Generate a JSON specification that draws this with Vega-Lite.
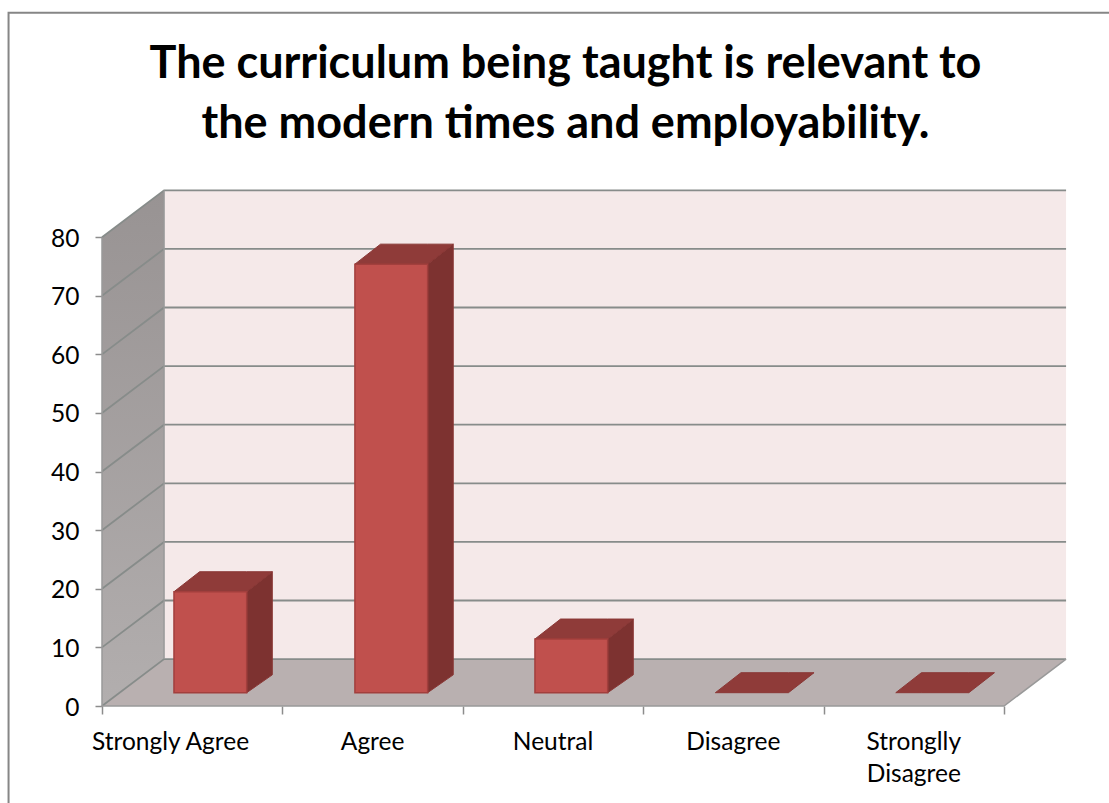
{
"$schema":"https://vega.github.io/schema/vega-lite/v6.json",
"width":1109,"height":803,"padding":0,"autosize":{"type":"none"},"background":"white",
"config":{"view":{"stroke":null}},
"title":{"text":["The curriculum being taught is relevant to","the modern times and employability."],"font":"Lato","fontSize":45,"fontWeight":"bold","color":"#000000","lineHeight":60,"anchor":"middle","frame":"group","orient":"top","baseline":"alphabetic","offset":-183,"dx":11},
"datasets":{
"walls":[{"wall":"left","x":0,"y":0,"y2":80},{"wall":"left","x":0.344,"y":8,"y2":88}],
"backwall":[{"wall":"back","x":0.344,"y":8,"y2":88},{"wall":"back","x":5.344,"y":8,"y2":88}],
"floor":[{"x":0,"y":0,"y2":0},{"x":0.344,"y":0,"y2":8},{"x":5,"y":0,"y2":8},{"x":5.344,"y":8,"y2":8}],
"grid":[
{"g":0,"i":0,"x":0,"y":0},{"g":0,"i":1,"x":0.344,"y":8},{"g":0,"i":2,"x":5.344,"y":8},
{"g":10,"i":0,"x":0,"y":10},{"g":10,"i":1,"x":0.344,"y":18},{"g":10,"i":2,"x":5.344,"y":18},
{"g":20,"i":0,"x":0,"y":20},{"g":20,"i":1,"x":0.344,"y":28},{"g":20,"i":2,"x":5.344,"y":28},
{"g":30,"i":0,"x":0,"y":30},{"g":30,"i":1,"x":0.344,"y":38},{"g":30,"i":2,"x":5.344,"y":38},
{"g":40,"i":0,"x":0,"y":40},{"g":40,"i":1,"x":0.344,"y":48},{"g":40,"i":2,"x":5.344,"y":48},
{"g":50,"i":0,"x":0,"y":50},{"g":50,"i":1,"x":0.344,"y":58},{"g":50,"i":2,"x":5.344,"y":58},
{"g":60,"i":0,"x":0,"y":60},{"g":60,"i":1,"x":0.344,"y":68},{"g":60,"i":2,"x":5.344,"y":68},
{"g":70,"i":0,"x":0,"y":70},{"g":70,"i":1,"x":0.344,"y":78},{"g":70,"i":2,"x":5.344,"y":78},
{"g":80,"i":0,"x":0,"y":80},{"g":80,"i":1,"x":0.344,"y":88},{"g":80,"i":2,"x":5.344,"y":88}],
"edges":[
{"g":"front","i":0,"x":0,"y":80},{"g":"front","i":1,"x":0,"y":0},{"g":"front","i":2,"x":5,"y":0},{"g":"front","i":3,"x":5.344,"y":8},
{"g":"back","i":0,"x":0.344,"y":8},{"g":"back","i":1,"x":0.344,"y":88}],
"frame":[{"i":0,"x":-0.518,"y":-17},{"i":1,"x":-0.518,"y":118.3},{"i":2,"x":5.582,"y":118.3}],
"front":[
{"category":"Strongly Agree","x":0.399,"x2":0.802,"y":2.27,"y2":19.5},
{"category":"Agree","x":1.402,"x2":1.805,"y":2.27,"y2":75.4},
{"category":"Neutral","x":2.4,"x2":2.803,"y":2.27,"y2":11.43}],
"side":[
{"category":"Strongly Agree","x":0.802,"y":2.27,"y2":19.5},{"category":"Strongly Agree","x":0.944,"y":5.32,"y2":22.91},
{"category":"Agree","x":1.805,"y":2.27,"y2":75.4},{"category":"Agree","x":1.947,"y":5.32,"y2":78.81},
{"category":"Neutral","x":2.803,"y":2.27,"y2":11.43},{"category":"Neutral","x":2.945,"y":5.32,"y2":14.84}],
"top":[
{"category":"Strongly Agree","x":0.399,"y":19.5,"y2":19.5},{"category":"Strongly Agree","x":0.541,"y":19.5,"y2":22.91},{"category":"Strongly Agree","x":0.802,"y":19.5,"y2":22.91},{"category":"Strongly Agree","x":0.944,"y":22.91,"y2":22.91},
{"category":"Agree","x":1.402,"y":75.4,"y2":75.4},{"category":"Agree","x":1.544,"y":75.4,"y2":78.81},{"category":"Agree","x":1.805,"y":75.4,"y2":78.81},{"category":"Agree","x":1.947,"y":78.81,"y2":78.81},
{"category":"Neutral","x":2.4,"y":11.43,"y2":11.43},{"category":"Neutral","x":2.542,"y":11.43,"y2":14.84},{"category":"Neutral","x":2.803,"y":11.43,"y2":14.84},{"category":"Neutral","x":2.945,"y":14.84,"y2":14.84},
{"category":"Disagree","x":3.4,"y":2.27,"y2":2.27},{"category":"Disagree","x":3.542,"y":2.27,"y2":5.68},{"category":"Disagree","x":3.805,"y":2.27,"y2":5.68},{"category":"Disagree","x":3.947,"y":5.68,"y2":5.68},
{"category":"Strongly Disagree","x":4.4,"y":2.27,"y2":2.27},{"category":"Strongly Disagree","x":4.542,"y":2.27,"y2":5.68},{"category":"Strongly Disagree","x":4.805,"y":2.27,"y2":5.68},{"category":"Strongly Disagree","x":4.947,"y":5.68,"y2":5.68}],
"labels":[
{"label":"Strongly Agree","x":0.38,"y":-7.5},
{"label":"Agree","x":1.5,"y":-7.5},
{"label":"Neutral","x":2.5,"y":-7.5},
{"label":"Disagree","x":3.5,"y":-7.5},
{"label":"Stronglly|Disagree","x":4.5,"y":-7.5}]
},
"encoding":{
"x":{"field":"x","type":"quantitative","scale":{"domain":[0,5.582],"range":[102,1109],"nice":false,"zero":false},
"axis":{"orient":"bottom","offset":-97,"title":null,"values":[0,1,2,3,4,5],"labels":false,"grid":false,"domain":false,"ticks":true,"tickSize":8,"tickColor":"#8c8c8c","tickWidth":1.5}},
"y":{"field":"y","type":"quantitative","scale":{"domain":[0,120.47],"range":[706,0],"nice":false,"zero":false},
"axis":{"orient":"left","offset":-102,"title":null,"values":[0,10,20,30,40,50,60,70,80],"grid":false,"domain":false,"ticks":true,"tickSize":7,"tickColor":"#8c8c8c","tickWidth":1.5,"labelFont":"Lato","labelFontSize":24.5,"labelColor":"#000000","labelPadding":16,"labelOffset":2}}
},
"layer":[
{"data":{"name":"frame"},"mark":{"type":"line","color":"#868686","strokeWidth":2},"encoding":{"order":{"field":"i"}}},
{"data":{"name":"walls"},"mark":{"type":"area","fill":{"gradient":"linear","x1":0,"y1":0,"x2":0,"y2":1,"stops":[{"offset":0,"color":"#989393"},{"offset":1,"color":"#b2aeae"}]}},"encoding":{"y2":{"field":"y2"}}},
{"data":{"name":"backwall"},"mark":{"type":"area","fill":"#f5e9e9"},"encoding":{"y2":{"field":"y2"}}},
{"data":{"name":"floor"},"mark":{"type":"area","fill":"#b9b0b0"},"encoding":{"y2":{"field":"y2"}}},
{"data":{"name":"grid"},"mark":{"type":"line","color":"#878c8a","strokeWidth":1.8},"encoding":{"detail":{"field":"g"},"order":{"field":"i"}}},
{"data":{"name":"edges"},"mark":{"type":"line","color":"#999999","strokeWidth":1.5},"encoding":{"detail":{"field":"g"},"order":{"field":"i"}}},
{"data":{"name":"side"},"mark":{"type":"area","fill":"#7d3230","stroke":"#8a3836","strokeWidth":1},"encoding":{"y2":{"field":"y2"},"detail":{"field":"category"}}},
{"data":{"name":"top"},"mark":{"type":"area","fill":"#8f3b39","stroke":"#8a3836","strokeWidth":1},"encoding":{"y2":{"field":"y2"},"detail":{"field":"category"}}},
{"data":{"name":"front"},"mark":{"type":"rect","fill":"#c0504d","stroke":"#a23f3d","strokeWidth":1.5},"encoding":{"x2":{"field":"x2"},"y2":{"field":"y2"}}},
{"data":{"name":"labels"},"mark":{"type":"text","font":"Lato","fontSize":24.5,"color":"#000000","align":"center","baseline":"alphabetic","lineBreak":"|","lineHeight":32},"encoding":{"text":{"field":"label"}}}
]
}
